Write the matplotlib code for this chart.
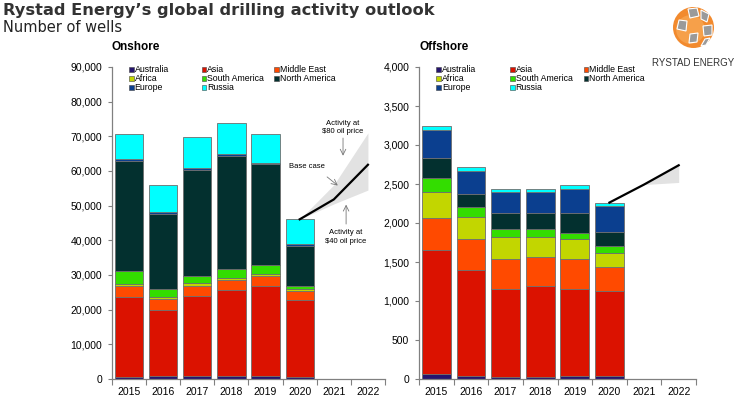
import numpy as np
import matplotlib.pyplot as plt
from matplotlib.patches import Rectangle, Circle, Polygon

# categories
years = ["2015", "2016", "2017", "2018", "2019", "2020", "2021", "2022"]
regions = ["Australia", "Asia", "Middle East", "Africa", "South America",
           "North America", "Europe", "Russia"]
colors = ["#25146e", "#db1200", "#ff4a00", "#c2d600", "#33dd00",
          "#03302f", "#0b3f8f", "#00ffff"]

# onshore wells per region, 2015-2020
on_australia = [700, 800, 900, 800, 800, 600]
on_asia = [22900, 19100, 22950, 24900, 26000, 22200]
on_middle_east = [3100, 3150, 2950, 2900, 3000, 2600]
on_africa = [800, 700, 800, 650, 500, 500]
on_south_america = [3700, 2300, 2200, 2550, 2600, 1050]
on_north_america = [31800, 21650, 30600, 32600, 29000, 11450]
on_europe = [450, 400, 400, 400, 500, 450]
on_russia = [7250, 7900, 9100, 8950, 8270, 7210]

# onshore forecast 2020-2022
on_base = [46060, 51800, 61800]
on_high = [46060, 56000, 71000]
on_low = [46060, 50500, 54500]

# offshore wells per region, 2015-2020
off_australia = [60, 43, 20, 20, 38, 38]
off_asia = [1600, 1353, 1133, 1171, 1119, 1089]
off_middle_east = [405, 393, 384, 368, 384, 303]
off_africa = [333, 290, 278, 265, 260, 180]
off_south_america = [179, 128, 102, 93, 77, 97]
off_north_america = [262, 171, 209, 207, 256, 176]
off_europe = [357, 286, 269, 268, 308, 336]
off_russia = [43, 55, 47, 48, 43, 43]

# offshore forecast 2020-2022
off_base = [2262, 2493, 2740]
off_high = [2262, 2493, 2760]
off_low = [2262, 2493, 2520]

onshore = [on_australia, on_asia, on_middle_east, on_africa, on_south_america,
           on_north_america, on_europe, on_russia]
offshore = [off_australia, off_asia, off_middle_east, off_africa, off_south_america,
            off_north_america, off_europe, off_russia]

plt.rcParams["font.family"] = ["Liberation Sans", "DejaVu Sans"]

fig = plt.figure(figsize=(7.37, 3.98), dpi=100)
W, H = 737, 398


def px_axes(x0, y0, x1, y1):
    # axes from pixel box (top-left origin)
    return fig.add_axes([x0 / W, 1 - y1 / H, (x1 - x0) / W, (y1 - y0) / H])


def draw_panel(ax, data, base, high, low, ymax, ystep, title):
    x = np.arange(len(data[0]))
    bottom = np.zeros(len(x))
    for vals, c in zip(data, colors):
        ax.bar(x, vals, bottom=bottom, width=0.83, color=c,
               edgecolor="#6e6e6e", linewidth=0.6, zorder=2)
        bottom += np.array(vals)

    fx = [5, 6, 7]
    ax.fill_between(fx, low, high, color="#e2e2e2", linewidth=0, zorder=1)
    ax.plot(fx, base, color="black", linewidth=1.6, zorder=3)

    ax.set_xlim(-0.5, len(years) - 0.5)
    ax.set_ylim(0, ymax)
    ax.set_xticks(range(len(years)))
    ax.set_xticklabels(years, fontsize=7.5)
    ax.set_xticks(np.arange(-0.5, len(years)), minor=True)
    ax.tick_params(axis="x", which="major", length=0, pad=6)
    ax.tick_params(axis="x", which="minor", length=4, color="#808080", width=0.8)
    yt = np.arange(0, ymax + 1, ystep)
    ax.set_yticks(yt)
    ax.set_yticklabels([f"{int(v):,}" for v in yt], fontsize=7.5)
    ax.tick_params(axis="y", length=3, color="#808080", width=0.8, pad=4)
    for s in ["top", "right"]:
        ax.spines[s].set_visible(False)
    for s in ["left", "bottom"]:
        ax.spines[s].set_color("#808080")
        ax.spines[s].set_linewidth(0.9)

    ax.text(0.0, 1.065, title, transform=ax.transAxes, fontsize=8.5,
            fontweight="bold", ha="left", va="center")

    # legend in three equal columns, row by row
    for i, (name, c) in enumerate(zip(regions, colors)):
        col, row = i % 3, i // 3
        lx = 0.062 + col * 0.266
        ly = 0.993 - row * 0.030
        ax.add_patch(Rectangle((lx, ly - 0.008), 0.017, 0.016, transform=ax.transAxes,
                               facecolor=c, edgecolor="#444444", linewidth=0.4,
                               clip_on=False, zorder=4))
        ax.text(lx + 0.021, ly, name, transform=ax.transAxes, fontsize=6.3,
                ha="left", va="center")


ax1 = px_axes(112, 67, 385, 379)
draw_panel(ax1, onshore, on_base, on_high, on_low, 90000, 10000, "Onshore")

ax2 = px_axes(419, 67, 696, 379)
draw_panel(ax2, offshore, off_base, off_high, off_low, 4000, 500, "Offshore")

# scenario notes on the onshore panel
arrow = dict(arrowstyle="->", color="#777777", linewidth=0.6)
ax1.annotate("", xy=(6.27, 63600), xytext=(6.27, 70300), arrowprops=arrow)
ax1.text(6.27, 72500, "Activity at\n\\$80 oil price", fontsize=5.5, ha="center", va="center",
         linespacing=1.3)
ax1.annotate("", xy=(6.18, 55300), xytext=(5.74, 58800), arrowprops=arrow)
ax1.text(5.22, 61200, "Base case", fontsize=5.5, ha="center", va="center")
ax1.annotate("", xy=(6.36, 51100), xytext=(6.36, 43900), arrowprops=arrow)
ax1.text(6.36, 41000, "Activity at\n\\$40 oil price", fontsize=5.5, ha="center", va="center",
         linespacing=1.3)

# titles
fig.text(3 / W, 1 - 10 / H, "Rystad Energy\u2019s global drilling activity outlook",
         fontsize=11.7, fontweight="bold", family="DejaVu Sans", color="#333333",
         ha="left", va="center")
fig.text(3 / W, 1 - 27 / H, "Number of wells", fontsize=10.5, family="DejaVu Sans",
         color="#222222", ha="left", va="center")

# logo
lax = px_axes(653, 4, 735, 74)
lax.set_xlim(653, 735)
lax.set_ylim(74, 4)
lax.set_aspect("equal")
lax.axis("off")
cx, cy, r = 693.5, 27.5, 20.5
lax.add_patch(Circle((cx, cy), r, facecolor="#f28a2e", edgecolor="none"))
lax.add_patch(Circle((cx - 3, cy + 2), r * 0.7, facecolor="#f6a04a", edgecolor="none"))
grey = [
    [(688, 9), (697, 8), (699, 16), (690, 18)],
    [(701, 10), (709, 14), (707, 22), (701, 19)],
    [(679, 20), (687, 21), (686, 31), (677, 29)],
    [(703, 26), (712, 25), (712, 35), (704, 36)],
    [(690, 34), (698, 33), (697, 42), (689, 43)],
    [(705, 39), (710, 38), (706, 45), (701, 46)],
]
for poly in grey:
    lax.add_patch(Polygon(poly, closed=True, facecolor="#9a9a9a", edgecolor="white",
                          linewidth=0.8))
lax.text(cx, 62.5, "RYSTAD ENERGY", fontsize=7, color="#333333",
         ha="center", va="center")

fig.savefig("out.png", dpi=100)
